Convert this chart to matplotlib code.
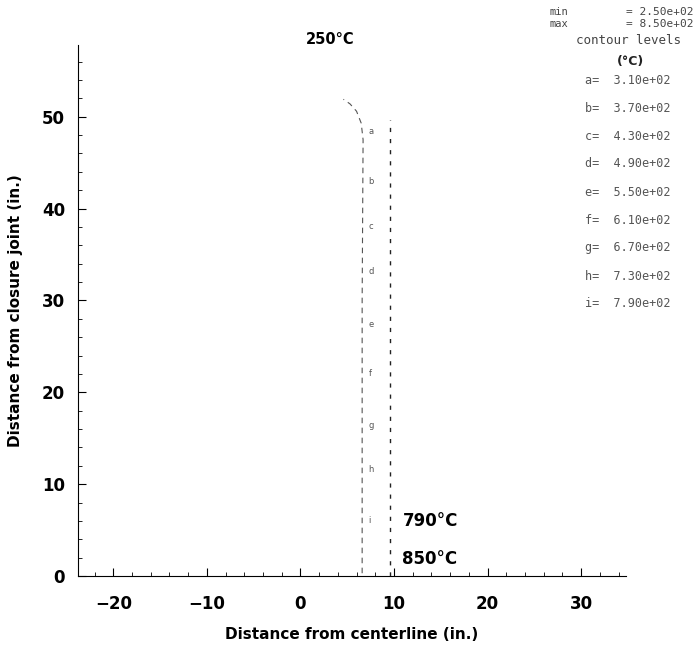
import numpy as np
import matplotlib.pyplot as plt
from matplotlib.ticker import MultipleLocator

# contour lines (inches)
inner_x = [6.6, 6.6, 6.6, 6.7, 6.5, 6.0, 5.3, 4.6]
inner_y = [0.3, 15.0, 30.0, 47.5, 49.3, 50.6, 51.4, 51.9]
outer_x = [9.6, 9.6, 9.6]
outer_y = [0.0, 25.0, 49.7]

# contour label letters placed along the inner line
label_letters = ["a", "b", "c", "d", "e", "f", "g", "h", "i"]
label_y = [48.4, 43.0, 38.0, 33.2, 27.4, 22.0, 16.4, 11.6, 6.0]

# contour levels (deg C)
levels = [310, 370, 430, 490, 550, 610, 670, 730, 790]
t_min = 250
t_max = 850

W, H = 694, 649
fig = plt.figure(figsize=(W / 100, H / 100), dpi=100)
ax = fig.add_axes([0.112, 0.1125, 0.79, 0.818])

ax.plot(inner_x, inner_y, color="#555555", lw=0.8, ls=(0, (5, 4)))
ax.plot(outer_x, outer_y, color="#222222", lw=1.0, ls=(0, (3, 5)))

for ch, yy in zip(label_letters, label_y):
    ax.text(7.3, yy, ch, fontsize=6, color="#555555", va="center")

ax.set_xlim(-23.8, 34.8)
ax.set_ylim(0, 57.8)
ax.spines["top"].set_visible(False)
ax.spines["right"].set_visible(False)
ax.xaxis.set_major_locator(MultipleLocator(10))
ax.yaxis.set_major_locator(MultipleLocator(10))
ax.xaxis.set_minor_locator(MultipleLocator(2))
ax.yaxis.set_minor_locator(MultipleLocator(2))
ax.tick_params(which="both", direction="in")
ax.tick_params(which="major", length=6, labelsize=12)
ax.tick_params(axis="x", which="major", pad=14)
ax.tick_params(axis="y", which="major", pad=9)
ax.tick_params(which="minor", length=3)
ax.set_xticks([-20, -10, 0, 10, 20, 30])
ax.set_xticklabels(["\u221220", "\u221210", "0", "10", "20", "30"], fontweight="bold")
for lab in ax.get_yticklabels():
    lab.set_fontweight("bold")

ax.set_xlabel("Distance from centerline (in.)", fontsize=11, fontweight="bold", labelpad=10)
ax.set_ylabel("Distance from closure joint (in.)", fontsize=11, fontweight="bold", labelpad=14)

ax.text(3.2, 58.4, "250\u00b0C", fontsize=10.5, fontweight="bold", ha="center", va="center",
        clip_on=False)
ax.text(10.9, 6.0, "790\u00b0C", fontsize=12, fontweight="bold", va="center")
ax.text(10.9, 1.8, "850\u00b0C", fontsize=12, fontweight="bold", va="center")

# legend block at top right (pixel positions from the scan)
mono = "DejaVu Sans Mono"
grey = "#444444"
fig.text(550 / W, 1 - 12 / H, "min", fontsize=7.5, color=grey, family=mono, va="center")
fig.text(693 / W, 1 - 12 / H, "= %.2fe+02" % (t_min / 100), fontsize=8, color=grey,
         family=mono, va="center", ha="right")
fig.text(550 / W, 1 - 24 / H, "max", fontsize=7.5, color=grey, family=mono, va="center")
fig.text(693 / W, 1 - 24 / H, "= %.2fe+02" % (t_max / 100), fontsize=8, color=grey,
         family=mono, va="center", ha="right")
fig.text(628 / W, 1 - 41 / H, "contour levels", fontsize=9, color=grey, family=mono,
         va="center", ha="center")
fig.text(630 / W, 1 - 62 / H, "(\u00b0C)", fontsize=9, fontweight="bold", color="#222222",
         va="center", ha="center")
for k, (ch, lv) in enumerate(zip(label_letters, levels)):
    fig.text(585 / W, 1 - (80 + 28 * k) / H, "%s=  %.2fe+02" % (ch, lv / 100), fontsize=8.5,
             color="#555555", family=mono, va="center")

fig.savefig("out.png", dpi=100)
